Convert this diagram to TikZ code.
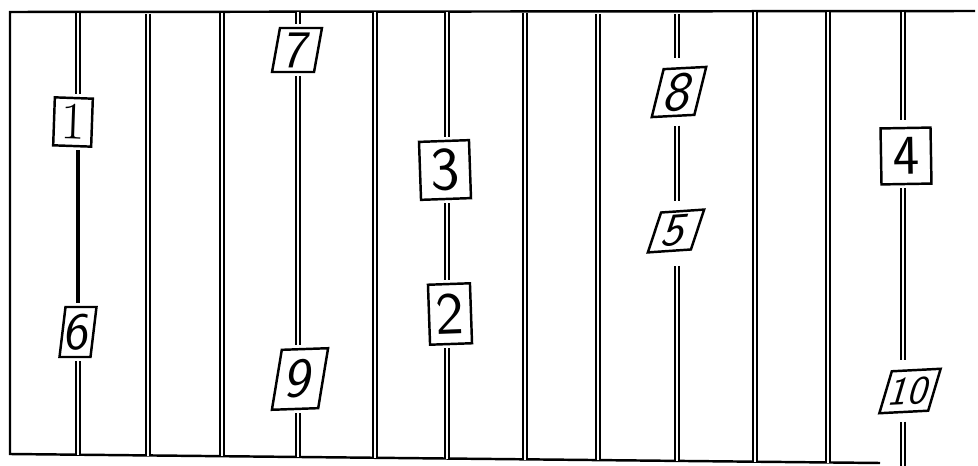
\documentclass[tikz,border=0pt]{standalone}
\begin{document}
\begin{tikzpicture}[x=0.02cm,y=-0.02cm,
  dbl/.style={draw=black, line width=1pt, double=white, double distance=1.3pt},
  thk/.style={draw=black, line width=2.6pt},
  frame/.style={draw=black, line width=1.4pt},
  lbl/.style={draw=black, fill=white, line width=1.4pt, inner sep=0pt, outer sep=2.5pt,
    transform shape, font=\sffamily\fontsize{30}{30}\selectfont}]
\useasboundingbox (0,0) rectangle (978,466);
% frame
\coordinate (ftr) at (975,11);
\coordinate (ftl) at (10,12);
\coordinate (fbl) at (10,454);
\coordinate (fbr) at (880,463);
\draw[frame] (ftr) -- (ftl) -- (fbl) -- (fbr);
% labels
\begin{scope}[shift={(73,122)},rotate=-2]
  \node[lbl,minimum width=0.76cm,minimum height=0.96cm] (n1) at (0,0) {\rmfamily 1};
\end{scope}
\begin{scope}[shift={(78,332)},xslant=0.12]
  \node[lbl,minimum width=0.62cm,minimum height=1.0cm] (n6) at (0,0) {6};
\end{scope}
\begin{scope}[shift={(297,50)},xslant=0.18]
  \node[lbl,minimum width=0.84cm,minimum height=0.88cm] (n7) at (0,0) {7};
\end{scope}
\begin{scope}[shift={(300,379)},xslant=0.2,rotate=2]
  \node[lbl,minimum width=0.92cm,minimum height=1.2cm,font=\sffamily\fontsize{32}{32}\selectfont] (n9) at (0,0) {9};
\end{scope}
\begin{scope}[shift={(445,170)},rotate=2]
  \node[lbl,minimum width=1.0cm,minimum height=1.16cm,font=\sffamily\fontsize{35}{35}\selectfont] (n3) at (0,0) {3};
\end{scope}
\begin{scope}[shift={(450,314)},rotate=2]
  \node[lbl,minimum width=0.84cm,minimum height=1.2cm,font=\sffamily\fontsize{34}{34}\selectfont] (n2) at (0,0) {2};
\end{scope}
\begin{scope}[shift={(679,92)},xslant=0.3,rotate=3]
  \node[lbl,minimum width=0.84cm,minimum height=0.96cm,font=\sffamily\fontsize{32}{32}\selectfont] (n8) at (0,0) {8};
\end{scope}
\begin{scope}[shift={(676,231)},xslant=0.4,rotate=4]
  \node[lbl,minimum width=0.84cm,minimum height=0.8cm,font=\sffamily\fontsize{27}{27}\selectfont] (n5) at (0,0) {5};
\end{scope}
\begin{scope}[shift={(906,156)},rotate=1]
  \node[lbl,minimum width=1.0cm,minimum height=1.12cm,font=\sffamily\fontsize{32}{32}\selectfont] (n4) at (0,0) {4};
\end{scope}
\begin{scope}[shift={(910,391)},xslant=0.35,rotate=3]
  \node[lbl,minimum width=0.96cm,minimum height=0.84cm,font=\sffamily\fontsize{23}{23}\selectfont] (n10) at (0,0) {10};
\end{scope}
% line end points
\coordinate (t1) at (78,13);   \coordinate (b1) at (78,455);
\coordinate (t2) at (148,14);  \coordinate (b2) at (148,455.5);
\coordinate (t3) at (222,13);  \coordinate (b3) at (222,456);
\coordinate (t4) at (298,12);  \coordinate (b4) at (298,457);
\coordinate (t5) at (375,12);  \coordinate (b5) at (375,458);
\coordinate (t6) at (447,12);  \coordinate (b6) at (447,458.5);
\coordinate (t7) at (525,13);  \coordinate (b7) at (525,459.5);
\coordinate (t8) at (598,14);  \coordinate (b8) at (598,460);
\coordinate (t9) at (677,14);  \coordinate (b9) at (677,461);
\coordinate (t10) at (755,12); \coordinate (b10) at (755,461.5);
\coordinate (t11) at (828,12); \coordinate (b11) at (828,462.5);
\coordinate (t12) at (903,12); \coordinate (b12) at (903,466);
% vertical lines
\draw[dbl] (t1) -- (t1 |- n1.north);
\draw[thk] (t1 |- n1.south) -- (t1 |- n6.north);
\draw[dbl, line width=1.3pt] (t1 |- n6.south) -- (b1);
\draw[dbl] (t2) -- (b2);
\draw[dbl] (t3) -- (b3);
\draw[dbl] (t4) -- (t4 |- n7.north);
\draw[dbl] (t4 |- n7.south) -- (t4 |- n9.north);
\draw[dbl] (t4 |- n9.south) -- (b4);
\draw[dbl] (t5) -- (b5);
\draw[dbl] (t6) -- (t6 |- n3.north);
\draw[dbl] (t6 |- n3.south) -- (t6 |- n2.north);
\draw[dbl] (t6 |- n2.south) -- (b6);
\draw[dbl] (t7) -- (b7);
\draw[dbl] (t8) -- (b8);
\draw[dbl] (t9) -- ([yshift=3pt]t9 |- n8.north);
\draw[dbl] ([yshift=-3pt]t9 |- n8.south) -- ([yshift=3pt]t9 |- n5.north);
\draw[dbl] ([yshift=-6pt]t9 |- n5.south) -- (b9);
\draw[dbl] (t10) -- (b10);
\draw[dbl] (t11) -- (b11);
\draw[dbl] (t12) -- ([yshift=2pt]t12 |- n4.north);
\draw[dbl] (t12 |- n4.south) -- ([yshift=3pt]t12 |- n10.north);
\draw[dbl] ([yshift=-3pt]t12 |- n10.south) -- (b12);
\end{tikzpicture}
\end{document}
